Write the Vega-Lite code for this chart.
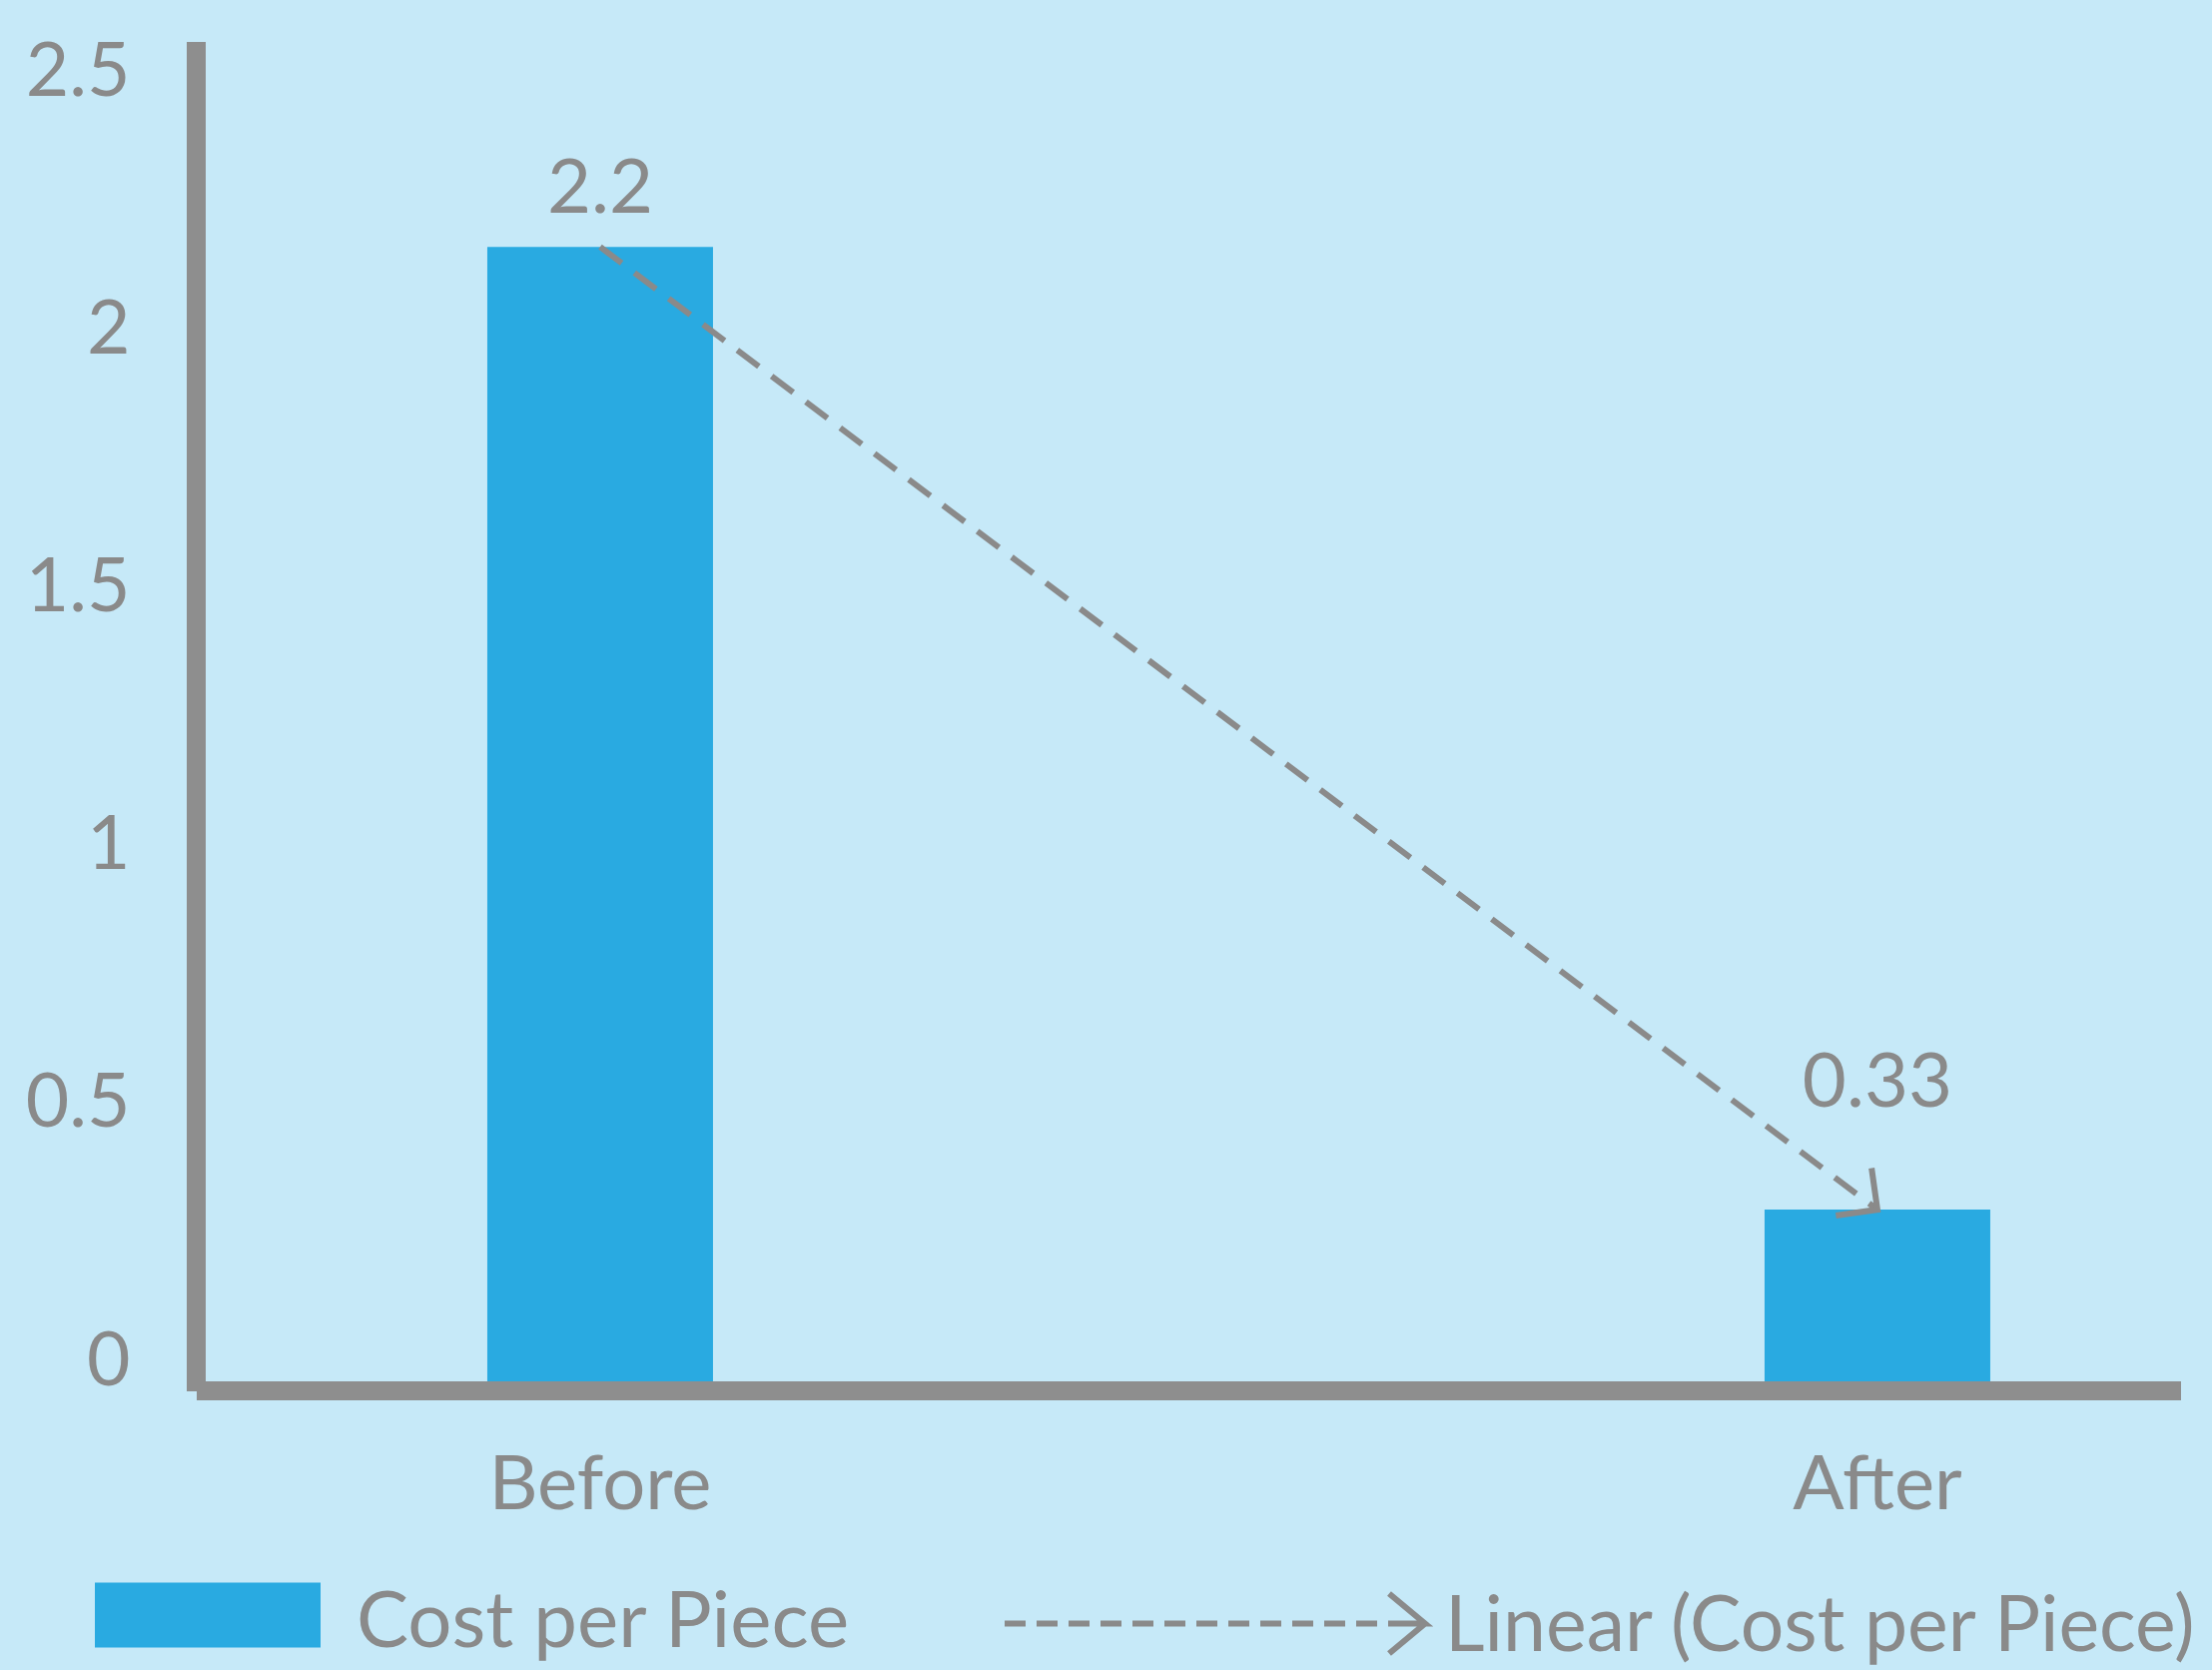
{
  "$schema": "https://vega.github.io/schema/vega-lite/v6.json",
  "width": 1968,
  "height": 1332,
  "autosize": {"type": "none"},
  "padding": {"left": 206, "top": 51, "right": 41, "bottom": 289},
  "background": "#C6E9F8",
  "config": {"view": {"stroke": null}, "font": "Lato"},
  "data": {"values": [
    {"stage": "Before", "cost": 2.2},
    {"stage": "After", "cost": 0.333}
  ]},
  "encoding": {
    "x": {
      "field": "stage", "type": "nominal", "sort": ["Before", "After"],
      "scale": {"paddingInner": 0.8233, "paddingOuter": 0.181, "align": 0.609},
      "axis": {
        "title": null, "offset": 9, "domainColor": "#8e8e8e", "domainWidth": 19, "domainCap": "square",
        "ticks": false, "tickSize": 0, "labelPadding": 118, "labelBaseline": "alphabetic", "labelLimit": 0,
        "labelFont": "Lato", "labelFontSize": 76, "labelColor": "#8a8a8a", "labelAngle": 0, "grid": false
      }
    },
    "y": {
      "field": "cost", "type": "quantitative",
      "scale": {"domain": [0, 2.58], "nice": false, "zero": true},
      "axis": {
        "title": null, "offset": 10, "values": [0, 0.5, 1, 1.5, 2, 2.5], "format": "~g",
        "domainColor": "#8e8e8e", "domainWidth": 19, "domainCap": "square",
        "ticks": false, "tickSize": 0, "labelPadding": 66, "labelOffset": -20,
        "labelFont": "Lato", "labelFontSize": 75, "labelColor": "#8a8a8a", "grid": false
      }
    }
  },
  "layer": [
    {
      "mark": {"type": "bar"},
      "encoding": {
        "fill": {
          "datum": "Cost per Piece", "type": "nominal",
          "scale": {"range": ["#29AAE1"]},
          "legend": {
            "title": null, "orient": "none", "legendX": -111, "legendY": 1453, "padding": 0,
            "symbolType": "M-1,-0.2876H1V0.2876H-1Z", "symbolSize": 51076, "symbolStrokeWidth": 0,
            "labelOffset": 36, "labelFont": "Lato", "labelFontSize": 78, "labelColor": "#8a8a8a", "labelLimit": 0,
            "encode": {"labels": {"update": {"dy": {"value": 9}}}}
          }
        }
      }
    },
    {
      "mark": {"type": "line", "strokeDash": [27, 16], "strokeWidth": 6},
      "encoding": {
        "stroke": {
          "datum": "Linear (Cost per Piece)", "type": "nominal",
          "scale": {"range": ["#8a8a8a"]},
          "legend": {
            "title": null, "orient": "none", "legendX": 797, "legendY": 1361, "padding": 0,
            "symbolType": "M-1,0L1,0L0.829,-0.1425L1,0L0.829,0.1425", "symbolSize": 177241,
            "symbolStrokeWidth": 6, "symbolFillColor": "transparent", "symbolStrokeColor": "#8a8a8a",
            "symbolDash": [21, 11, 21, 11, 21, 11, 21, 11, 21, 11, 21, 11, 21, 11, 21, 11, 21, 11, 21, 11, 21, 11, 21, 11, 180, 0],
            "labelOffset": 17, "labelFont": "Lato", "labelFontSize": 77, "labelColor": "#8a8a8a", "labelLimit": 0,
            "encode": {"labels": {"update": {"dy": {"value": 4}}}}
          }
        }
      }
    },
    {
      "transform": [{"filter": "datum.stage === 'After'"}],
      "mark": {
        "type": "point", "shape": "M-1,-1L0,0L-1,1", "angle": 37, "size": 3528,
        "filled": false, "stroke": "#8a8a8a", "strokeWidth": 6, "opacity": 1
      },
      "encoding": {}
    },
    {
      "transform": [{"filter": "datum.stage === 'Before'"}],
      "mark": {"type": "text", "baseline": "alphabetic", "dy": -34, "font": "Lato", "fontSize": 76, "color": "#8a8a8a"},
      "encoding": {"text": {"field": "cost", "type": "quantitative", "format": ".2~f"}}
    },
    {
      "transform": [{"filter": "datum.stage === 'After'"}],
      "mark": {"type": "text", "baseline": "alphabetic", "dy": -103, "font": "Lato", "fontSize": 76, "color": "#8a8a8a"},
      "encoding": {"text": {"field": "cost", "type": "quantitative", "format": ".2~f"}}
    }
  ]
}
